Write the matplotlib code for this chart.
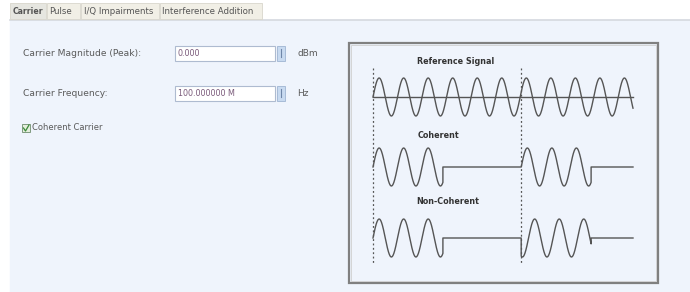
import numpy as np
import matplotlib
matplotlib.use("Agg")
import matplotlib.pyplot as plt
from matplotlib.patches import Rectangle

# ---- data ----
tab_labels = ["Carrier", "Pulse", "I/Q Impairments", "Interference Addition"]
field_labels = ["Carrier Magnitude (Peak):", "Carrier Frequency:"]
field_values = ["0.000", "100.000000 M"]
field_units = ["dBm", "Hz"]
checkbox_label = "Coherent Carrier"
trace_titles = ["Reference Signal", "Coherent", "Non-Coherent"]

ref_cycles = 10.6          # cycles across the full reference trace
burst_cycles = 2.85        # cycles in each burst
burst_starts = [0.0, 0.57] # burst start positions (fraction of trace width)
noncoh_phase = [0.0, -0.3] # phase offset (cycles) of each non-coherent burst

W, H = 690, 292
fig = plt.figure(figsize=(W / 100, H / 100), dpi=100)
ax = fig.add_axes([0, 0, 1, 1])
ax.set_xlim(0, W)
ax.set_ylim(H, 0)
ax.axis("off")

panel_bg = "#eff4fc"
txt = "#5a5a5a"
font = "DejaVu Sans"

# background
ax.add_patch(Rectangle((0, 0), W, H, color="white", zorder=0))
ax.add_patch(Rectangle((10, 20), W - 10, H - 20, color=panel_bg, zorder=0))
ax.plot([10, W], [19.5, 19.5], color="#d5d9df", lw=1.2, zorder=1)

# tabs
tab_x = [10, 47, 81, 160]
tab_w = [36, 33, 78, 102]
for i, (lab, x0, w) in enumerate(zip(tab_labels, tab_x, tab_w)):
    fc = "#e6e6e0" if i == 0 else "#f1efe6"
    ax.add_patch(Rectangle((x0, 3), w, 16, facecolor=fc, edgecolor="#d8d6cc",
                           lw=0.6, zorder=1))
    ax.text(x0 + 2.5, 12, lab, fontsize=5.6 if i == 0 else 6.2, color="#555555",
            va="center", ha="left", family=font,
            fontweight="bold" if i == 0 else "normal", zorder=2)

# fields
row_y = [53, 93]
for lab, val, unit, y in zip(field_labels, field_values, field_units, row_y):
    ax.text(23, y, lab, fontsize=6.6, color=txt, va="center", ha="left", family=font)
    ax.add_patch(Rectangle((175, y - 7.5), 100, 15, facecolor="white",
                           edgecolor="#aebbd0", lw=0.8, zorder=1))
    ax.text(178, y, val, fontsize=5.8, color="#7a5a7a", va="center", ha="left",
            family=font, zorder=2)
    ax.add_patch(Rectangle((277, y - 7.5), 8, 15, facecolor="#c8daf0",
                           edgecolor="#9fb4d2", lw=0.6, zorder=1))
    ax.plot([281, 281], [y - 4, y + 4], color="#6f86a8", lw=0.8, zorder=2)
    ax.text(297, y, unit, fontsize=6.5, color=txt, va="center", ha="left", family=font)

# checkbox
ax.add_patch(Rectangle((22, 124), 8, 8, facecolor="#e4eedc", edgecolor="#7f9a7f",
                       lw=0.7, zorder=1))
ax.plot([23.5, 25.5, 29], [128, 131, 125], color="#3a8a3a", lw=0.9, zorder=2)
ax.text(32, 128, checkbox_label, fontsize=6, color=txt, va="center", ha="left",
        family=font)

# diagram box
ax.add_patch(Rectangle((349, 43), 309, 240, facecolor="none", edgecolor="#808080",
                       lw=1.6, zorder=1))
ax.add_patch(Rectangle((351, 45), 305, 236, facecolor="none", edgecolor="#cfcfcf",
                       lw=0.6, zorder=1))

# traces
x0, x1 = 373, 633
span = x1 - x0
period = span / ref_cycles
wave_col = "#555555"

# reference
t = np.linspace(0, span, 1200)
ref_c, amp = 97, 19
ax.plot([x0, x1], [ref_c, ref_c], color=wave_col, lw=1.0)
ax.plot(x0 + t, ref_c - amp * np.sin(2 * np.pi * t / period), color=wave_col, lw=1.0)

def burst_trace(center, phases):
    xs, ys = [], []
    for start, ph in zip(burst_starts, phases):
        bx0 = x0 + start * span
        tb = np.linspace(0, burst_cycles * period, 400)
        y = center - amp * np.sin(2 * np.pi * (tb / period + ph))
        xs += [bx0] + list(bx0 + tb) + [bx0 + tb[-1]]
        ys += [center] + list(y) + [center]
    xs.append(x1)
    ys.append(center)
    return np.array(xs), np.array(ys)

coh_c, non_c = 167, 238
xc, yc = burst_trace(coh_c, [0.0, 0.0])
ax.plot(xc, yc, color=wave_col, lw=1.0)
xn, yn = burst_trace(non_c, noncoh_phase)
ax.plot(xn, yn, color=wave_col, lw=1.0)

# dashed markers
for xv in [x0, x0 + burst_starts[1] * span]:
    ax.plot([xv, xv], [68, 263], color="#555555", lw=0.9, ls=(0, (1.5, 2)))

# titles
for title, (tx, ty) in zip(trace_titles, [(417, 61), (418, 136), (416, 202)]):
    ax.text(tx, ty, title, fontsize=5.8, color="#333333", fontweight="bold",
            va="center", ha="left", family=font)

fig.savefig("out.png", dpi=100)
